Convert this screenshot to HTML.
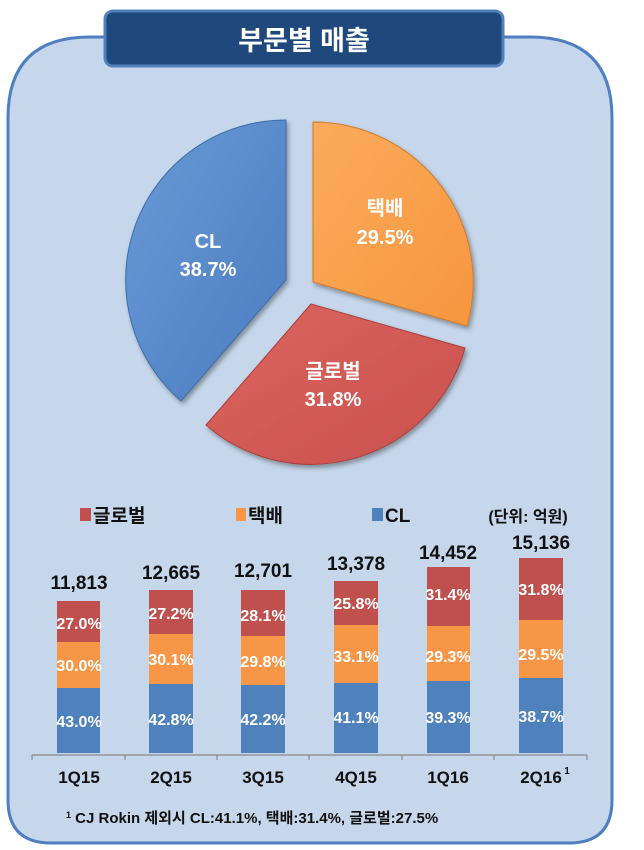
<!DOCTYPE html>
<html><head><meta charset="utf-8"><style>
html,body{margin:0;padding:0;background:#fff;}
svg{display:block;}
text{font-family:"Liberation Sans","Noto Sans CJK KR",sans-serif;font-weight:bold;}
</style></head><body>
<svg width="644" height="850" viewBox="0 0 644 850" xmlns="http://www.w3.org/2000/svg">
<defs>
<linearGradient id="gb" x1="0" y1="0" x2="1" y2="1"><stop offset="0" stop-color="#6a9ad6"/><stop offset="1" stop-color="#4a7cc0"/></linearGradient>
<linearGradient id="go" x1="0" y1="0" x2="1" y2="1"><stop offset="0" stop-color="#fbab5c"/><stop offset="1" stop-color="#f7963f"/></linearGradient>
<linearGradient id="gr" x1="0" y1="0" x2="1" y2="1"><stop offset="0" stop-color="#dc6561"/><stop offset="1" stop-color="#c9504c"/></linearGradient>
<filter id="sh" x="-20%" y="-20%" width="140%" height="140%"><feDropShadow dx="2" dy="3" stdDeviation="2.5" flood-color="#000" flood-opacity="0.35"/></filter>
</defs>
<path d="M8,800 L8,118 Q8,37 90,37 L530,37 Q612,37 612,118 L612,800 Q612,843 569,843 L51,843 Q8,843 8,800 Z" fill="#c6d7eb" stroke="#4f7fbf" stroke-width="3"/>
<rect x="105" y="11" width="398" height="55" rx="8" fill="#1f487c" stroke="#4f81bd" stroke-width="3"/>
<text x="304" y="50" font-size="27" fill="#fff" text-anchor="middle">부문별 매출</text>
<g filter="url(#sh)" stroke-width="1">
<path d="M286,280 L286,120 A160,160 0 0 0 181,401 Z" fill="url(#gb)" stroke="#3e6ca8"/>
<path d="M313,282 L313,122 A160,160 0 0 1 467,326 Z" fill="url(#go)" stroke="#d17a2c"/>
<path d="M311,304 L465,348 A160,160 0 0 1 206,425 Z" fill="url(#gr)" stroke="#a8403d"/>
</g>
<g fill="#fff" font-size="20" text-anchor="middle">
<text x="208" y="248">CL</text><text x="208" y="276">38.7%</text>
<text x="385" y="215">택배</text><text x="385" y="244">29.5%</text>
<text x="333" y="378">글로벌</text><text x="333" y="406">31.8%</text>
</g>
<g font-size="19" fill="#111">
<rect x="80" y="508" width="11" height="13" fill="#c0504d"/><text x="93" y="522">글로벌</text>
<rect x="236" y="508" width="10" height="13" fill="#f79646"/><text x="248" y="522">택배</text>
<rect x="372" y="508" width="11" height="13" fill="#4f81bd"/><text x="385" y="522">CL</text>
<text x="528" y="522" text-anchor="middle" font-size="16">(단위: 억원)</text>
</g>
<g>
<rect x="57" y="601" width="43" height="41" fill="#c0504d"/><rect x="57" y="642" width="43" height="46" fill="#f79646"/><rect x="57" y="688" width="43" height="65" fill="#4f81bd"/>
<rect x="149" y="590" width="44" height="44" fill="#c0504d"/><rect x="149" y="634" width="44" height="50" fill="#f79646"/><rect x="149" y="684" width="44" height="69" fill="#4f81bd"/>
<rect x="241" y="590" width="44" height="46" fill="#c0504d"/><rect x="241" y="636" width="44" height="49" fill="#f79646"/><rect x="241" y="685" width="44" height="68" fill="#4f81bd"/>
<rect x="334" y="581" width="44" height="44" fill="#c0504d"/><rect x="334" y="625" width="44" height="58" fill="#f79646"/><rect x="334" y="683" width="44" height="70" fill="#4f81bd"/>
<rect x="427" y="567" width="43" height="59" fill="#c0504d"/><rect x="427" y="626" width="43" height="55" fill="#f79646"/><rect x="427" y="681" width="43" height="72" fill="#4f81bd"/>
<rect x="519" y="558" width="44" height="62" fill="#c0504d"/><rect x="519" y="620" width="44" height="58" fill="#f79646"/><rect x="519" y="678" width="44" height="75" fill="#4f81bd"/>
</g>
<g fill="#fff" font-size="16" text-anchor="middle">
<text x="79" y="629">27.0%</text><text x="79" y="671">30.0%</text><text x="79" y="727">43.0%</text>
<text x="171" y="619">27.2%</text><text x="171" y="665">30.1%</text><text x="171" y="725">42.8%</text>
<text x="263" y="621">28.1%</text><text x="263" y="667">29.8%</text><text x="263" y="725">42.2%</text>
<text x="356" y="609">25.8%</text><text x="356" y="662">33.1%</text><text x="356" y="723">41.1%</text>
<text x="448" y="600">31.4%</text><text x="448" y="662">29.3%</text><text x="448" y="723">39.3%</text>
<text x="541" y="595">31.8%</text><text x="541" y="660">29.5%</text><text x="541" y="722">38.7%</text>
</g>
<g fill="#111" font-size="19" text-anchor="middle">
<text x="79" y="589">11,813</text><text x="171" y="579">12,665</text><text x="263" y="577">12,701</text>
<text x="356" y="570">13,378</text><text x="448" y="559">14,452</text><text x="541" y="549">15,136</text>
</g>
<g stroke="#888" stroke-width="1.2">
<line x1="32" y1="755" x2="587" y2="755"/>
<line x1="32" y1="755" x2="32" y2="760"/><line x1="125" y1="755" x2="125" y2="760"/><line x1="217" y1="755" x2="217" y2="760"/><line x1="309" y1="755" x2="309" y2="760"/><line x1="402" y1="755" x2="402" y2="760"/><line x1="494" y1="755" x2="494" y2="760"/><line x1="587" y1="755" x2="587" y2="760"/>
</g>
<g fill="#111" font-size="17" text-anchor="middle">
<text x="79" y="783">1Q15</text><text x="171" y="783">2Q15</text><text x="263" y="783">3Q15</text>
<text x="356" y="783">4Q15</text><text x="448" y="783">1Q16</text><text x="541" y="783">2Q16</text>
<text x="567" y="774" font-size="10">1</text>
</g>
<text x="66" y="823" font-size="15" fill="#111" font-weight="normal"><tspan font-size="9" dy="-5">1</tspan><tspan dy="5"> CJ Rokin 제외시 CL:41.1%, 택배:31.4%, 글로벌:27.5%</tspan></text>
</svg>
</body></html>
